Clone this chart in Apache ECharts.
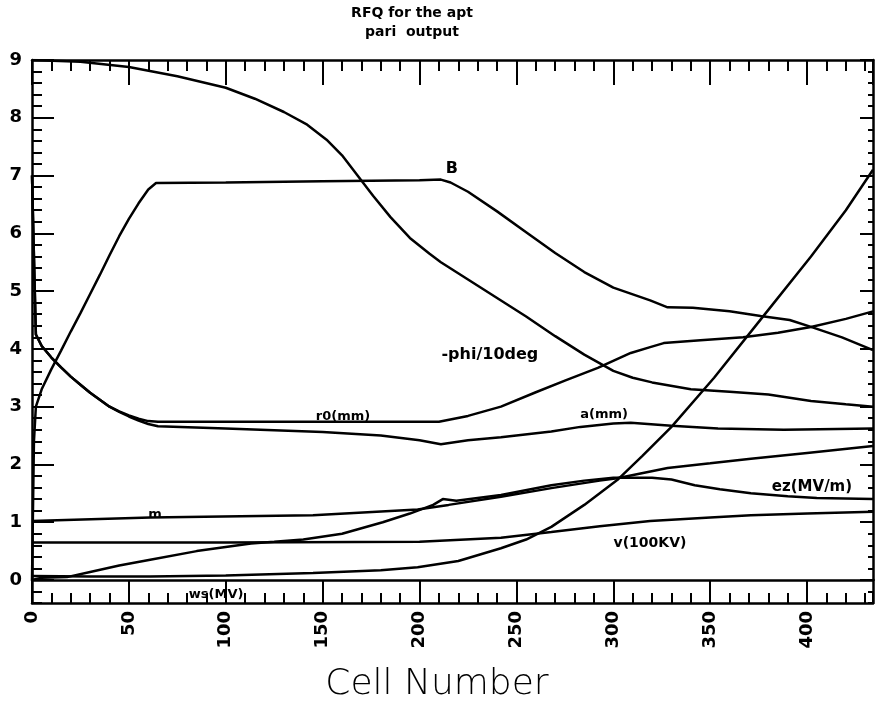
<!DOCTYPE html>
<html>
<head>
<meta charset="utf-8">
<script src="https://cdn.jsdelivr.net/npm/echarts@6/dist/echarts.min.js"></script>
<style>
  html, body { margin: 0; padding: 0; background: #fff; }
  #chart { width: 876px; height: 708px; }
</style>
</head>
<body>
<div id="chart"></div>
<script>
// RFQ design parameters along the structure, plotted against cell number.
const cellMax = 434;
const xTickLabels = ['0', '50', '100', '150', '200', '250', '300', '350', '400'];
const yTickLabels = ['0', '1', '2', '3', '4', '5', '6', '7', '8', '9'];

// synchronous phase, -phi in units of 10 degrees
const phiCurve = [[0, 9.0], [25, 8.97], [50, 8.88], [75, 8.72], [100, 8.52], [115, 8.33],
  [130, 8.1], [142, 7.88], [152, 7.62], [160, 7.35], [168, 7.0], [176, 6.65], [185, 6.28],
  [195, 5.92], [205, 5.65], [211, 5.5], [225, 5.2], [240, 4.88], [255, 4.56], [270, 4.22],
  [285, 3.9], [300, 3.62], [310, 3.5], [320, 3.42], [340, 3.3], [360, 3.26], [380, 3.21],
  [402, 3.1], [420, 3.04], [434, 3.0]];
// focusing strength B
const bCurve = [[0, 0.0], [1, 2.4], [2, 3.0], [5, 3.3], [10, 3.65], [15, 3.97], [20, 4.3],
  [25, 4.62], [30, 4.95], [35, 5.28], [40, 5.62], [45, 5.95], [50, 6.25], [55, 6.52],
  [60, 6.76], [64, 6.87], [100, 6.88], [150, 6.9], [200, 6.92], [211, 6.93], [216, 6.88],
  [225, 6.72], [240, 6.38], [255, 6.02], [270, 5.66], [285, 5.33], [300, 5.06], [319, 4.84],
  [328, 4.72], [341, 4.71], [360, 4.65], [376, 4.57], [391, 4.5], [402, 4.38], [418, 4.2],
  [434, 3.98]];
// mean aperture r0 (mm)
const r0Curve = [[0, 7.0], [1, 5.6], [2, 4.25], [5, 4.05], [10, 3.85], [15, 3.68], [20, 3.52],
  [25, 3.38], [30, 3.24], [35, 3.12], [40, 3.0], [45, 2.92], [50, 2.85], [55, 2.79],
  [60, 2.75], [65, 2.74], [100, 2.74], [150, 2.74], [210, 2.74], [225, 2.84], [242, 3.0],
  [260, 3.25], [275, 3.45], [292, 3.67], [309, 3.93], [319, 4.03], [326, 4.1], [345, 4.15],
  [367, 4.2], [385, 4.28], [402, 4.38], [420, 4.52], [434, 4.65]];
// minimum aperture a (mm)
const aCurve = [[0, 7.0], [1, 5.6], [2, 4.25], [5, 4.05], [10, 3.85], [15, 3.68], [20, 3.52],
  [25, 3.38], [30, 3.24], [35, 3.12], [40, 3.0], [45, 2.91], [50, 2.83], [55, 2.76],
  [60, 2.7], [65, 2.66], [100, 2.62], [150, 2.56], [180, 2.5], [200, 2.42], [211, 2.35],
  [225, 2.42], [242, 2.47], [268, 2.57], [283, 2.65], [300, 2.71], [309, 2.72], [330, 2.67],
  [354, 2.62], [388, 2.6], [434, 2.62]];
// vane modulation m
const mCurve = [[0, 1.02], [61, 1.08], [145, 1.12], [199, 1.22], [215, 1.3], [242, 1.44],
  [268, 1.59], [293, 1.72], [302, 1.76], [328, 1.94], [350, 2.02], [371, 2.1], [400, 2.2],
  [434, 2.32]];
// accelerating field Ez (MV/m)
const ezCurve = [[0, 0.0], [5, 0.04], [18, 0.05], [30, 0.14], [45, 0.25], [61, 0.35],
  [85, 0.5], [113, 0.63], [125, 0.66], [140, 0.7], [160, 0.8], [181, 1.0], [195, 1.15],
  [207, 1.3], [212, 1.4], [219, 1.37], [230, 1.42], [242, 1.47], [268, 1.64], [285, 1.72],
  [300, 1.77], [320, 1.77], [330, 1.74], [342, 1.64], [355, 1.57], [371, 1.5], [390, 1.45],
  [405, 1.42], [434, 1.4]];
// vane voltage (100 kV)
const vCurve = [[0, 0.65], [100, 0.65], [200, 0.66], [242, 0.73], [268, 0.83], [293, 0.93],
  [319, 1.02], [350, 1.08], [371, 1.12], [400, 1.15], [434, 1.18]];
// synchronous energy Ws (MeV)
const wsCurve = [[0, 0.07], [30, 0.06], [61, 0.06], [100, 0.08], [145, 0.12], [180, 0.17],
  [199, 0.22], [220, 0.33], [242, 0.55], [255, 0.7], [268, 0.92], [285, 1.3], [302, 1.73],
  [315, 2.15], [330, 2.65], [352, 3.5], [377, 4.55], [402, 5.6], [420, 6.4], [434, 7.1]];

// curve captions, anchored in data space (cell, value)
const curveLabels = [
  { text: 'B', at: [216.7, 7.12], size: 16 },
  { text: '-phi/10deg', at: [236.3, 3.89], size: 16 },
  { text: 'r0(mm)', at: [160.5, 2.82], size: 13 },
  { text: 'a(mm)', at: [295.2, 2.86], size: 13 },
  { text: 'ez(MV/m)', at: [402.5, 1.61], size: 15 },
  { text: 'v(100KV)', at: [318.9, 0.64], size: 14 },
  { text: 'm', at: [63.5, 1.14], size: 13 },
  { text: 'ws(MV)', at: [95, -0.26], size: 13 }
];

const FONT = 'DejaVu Sans';
const INK = '#000';

const chart = echarts.init(document.getElementById('chart'), null, { renderer: 'canvas' });

function curve(name, data) {
  return {
    name: name, type: 'line', xAxisIndex: 0, yAxisIndex: 0, data: data,
    symbol: 'none', showSymbol: false, smooth: false,
    lineStyle: { color: INK, width: 2.5 }, z: 3, animation: false, silent: true
  };
}

function xAx(grid, pos, interval, tickLen, opts) {
  return Object.assign({
    type: 'value', gridIndex: grid, position: pos, min: 0, max: cellMax, interval: interval,
    axisLine: { show: false, onZero: false },
    axisTick: { show: true, inside: true, length: tickLen, lineStyle: { color: INK, width: 2 } },
    axisLabel: { show: false }, splitLine: { show: false }
  }, opts || {});
}
function yAx(grid, pos, min, max, interval, tickLen, opts) {
  return Object.assign({
    type: 'value', gridIndex: grid, position: pos, min: min, max: max, interval: interval,
    axisLine: { show: false, onZero: false },
    axisTick: { show: true, inside: true, length: tickLen, lineStyle: { color: INK, width: 2 } },
    axisLabel: { show: false }, splitLine: { show: false }
  }, opts || {});
}
const frameLine = { show: true, onZero: false, lineStyle: { color: INK, width: 2.5 } };

const option = {
  animation: false,
  backgroundColor: '#fff',
  grid: [
    { left: 32, right: 3, top: 60, height: 520 },
    { left: 32, right: 3, top: 580, height: 23 }
  ],
  xAxis: [
    // zero line of the value grid
    xAx(0, 'bottom', 50, 0, { axisLine: frameLine, axisTick: { show: false } }),
    // top frame with major and minor ticks
    xAx(0, 'top', 50, 25, { axisLine: frameLine }),
    xAx(0, 'top', 10, 11),
    // bottom frame: ticks and rotated labels
    xAx(1, 'bottom', 50, 23, {
      axisLine: frameLine,
      axisLabel: {
        show: true, rotate: 90, margin: 8, color: INK, fontFamily: FONT, fontWeight: 'bold',
        fontSize: 18, showMaxLabel: false,
        formatter: function (v) { const i = xTickLabels.indexOf(String(v)); return i >= 0 ? xTickLabels[i] : ''; }
      }
    }),
    xAx(1, 'bottom', 10, 10)
  ],
  yAxis: [
    yAx(0, 'left', 0, 9, 1, 22, {
      axisLine: frameLine,
      axisLabel: {
        show: true, margin: 10, color: INK, fontFamily: FONT, fontWeight: 'bold', fontSize: 18,
        formatter: function (v) { const i = yTickLabels.indexOf(String(v)); return i >= 0 ? yTickLabels[i] : ''; }
      }
    }),
    yAx(0, 'left', 0, 9, 0.2, 10),
    yAx(0, 'right', 0, 9, 1, 13, { axisLine: frameLine }),
    yAx(0, 'right', 0, 9, 0.2, 5),
    yAx(1, 'left', -0.4, 0, 0.2, 10, { axisLine: frameLine }),
    yAx(1, 'right', -0.4, 0, 0.2, 5, { axisLine: frameLine })
  ],
  series: [
    curve('-phi/10deg', phiCurve),
    curve('B', bCurve),
    curve('r0(mm)', r0Curve),
    curve('a(mm)', aCurve),
    curve('m', mCurve),
    curve('ez(MV/m)', ezCurve),
    curve('v(100KV)', vCurve),
    curve('ws(MV)', wsCurve)
  ]
};

chart.setOption(option);

// captions: titles, axis name and curve names
const graphics = [
  { type: 'text', x: 412, y: 13, style: { text: 'RFQ for the apt', font: 'bold 14px "' + FONT + '"', fill: INK, textAlign: 'center', textVerticalAlign: 'middle' } },
  { type: 'text', x: 412, y: 32, style: { text: 'pari  output', font: 'bold 14px "' + FONT + '"', fill: INK, textAlign: 'center', textVerticalAlign: 'middle' } },
  { type: 'text', x: 437, y: 685, style: { text: 'Cell Number', font: '200 36px "' + FONT + '"', fill: INK, textAlign: 'center', textVerticalAlign: 'middle' } }
];
curveLabels.forEach(function (lab) {
  const p = chart.convertToPixel({ gridIndex: 0 }, lab.at);
  graphics.push({
    type: 'text', x: p[0], y: p[1], z: 10,
    style: { text: lab.text, font: 'bold ' + lab.size + 'px "' + FONT + '"', fill: INK, textAlign: 'center', textVerticalAlign: 'middle' }
  });
});
chart.setOption({ graphic: graphics });
</script>
</body>
</html>
